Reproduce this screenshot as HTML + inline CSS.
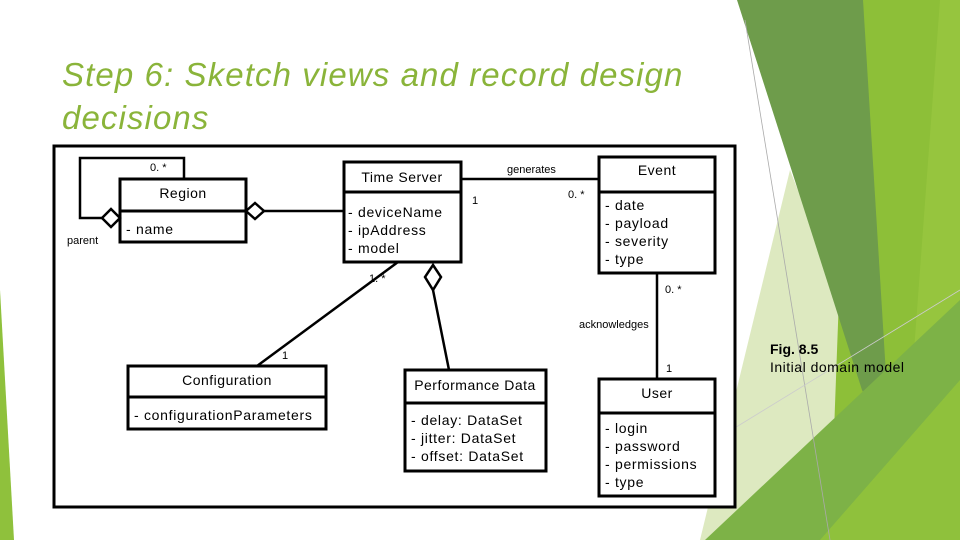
<!DOCTYPE html>
<html><head><meta charset="utf-8"><style>
html,body{margin:0;padding:0;background:#fff;}
svg{display:block;}
text{font-family:"Liberation Sans",sans-serif;}
</style></head><body>
<svg width="960" height="540" viewBox="0 0 960 540" xmlns="http://www.w3.org/2000/svg">
<rect width="960" height="540" fill="#fff"/>
<!-- background decoration -->
<polygon points="0,290 14,540 0,540" fill="#8fc13c"/>
<polygon points="790,170 880,400 960,300 960,540 700,540" fill="#dde9c0"/>
<polygon points="850,0 960,0 960,540 830,540" fill="#8dbf38"/>
<polygon points="940,0 960,0 960,540 900,540" fill="#96c53e"/>
<polygon points="737,0 863,0 890,440 862,390" fill="#6e9c4b"/>
<polygon points="705,540 960,300 960,540" fill="#7db247"/>
<polygon points="820,540 960,380 960,540" fill="#8fc13c"/>
<line x1="745" y1="20" x2="830" y2="540" stroke="#aaa" stroke-width="0.8"/>
<line x1="715" y1="440" x2="960" y2="290" stroke="#ccc" stroke-width="0.8"/>
<!-- title -->
<text x="62" y="86" font-size="33" font-style="italic" letter-spacing="1.1" fill="#8ab43a">Step 6: Sketch views and record design</text>
<text x="62" y="129" font-size="33" font-style="italic" letter-spacing="1.1" fill="#8ab43a">decisions</text>
<!-- frame -->
<rect x="54" y="146" width="681" height="361" fill="#fff" stroke="#000" stroke-width="3"/>
<g stroke="#000" stroke-width="3" fill="#fff">
<rect x="120" y="179" width="126" height="63"/>
<line x1="120" y1="211" x2="246" y2="211"/>
<rect x="344" y="162" width="117" height="100"/>
<line x1="344" y1="192" x2="461" y2="192"/>
<rect x="599" y="157" width="116" height="116"/>
<line x1="599" y1="192" x2="715" y2="192"/>
<rect x="128" y="366" width="198" height="63"/>
<line x1="128" y1="397" x2="326" y2="397"/>
<rect x="405" y="370" width="141" height="101"/>
<line x1="405" y1="403" x2="546" y2="403"/>
<rect x="599" y="379" width="116" height="117"/>
<line x1="599" y1="413" x2="715" y2="413"/>
</g>
<g stroke="#000" stroke-width="2.5" fill="none">
<polyline points="102,218 80,218 80,158 184,158 184,179"/>
<line x1="264" y1="211" x2="344" y2="211"/>
<line x1="461" y1="179" x2="599" y2="179"/>
<line x1="657" y1="273" x2="657" y2="379"/>
<line x1="398" y1="262" x2="257" y2="366"/>
<line x1="433" y1="290" x2="449" y2="370"/>
</g>
<g stroke="#000" stroke-width="2.5" fill="#fff">
<polygon points="102,218 111,209 120,218 111,227"/>
<polygon points="246,211 255,203 264,211 255,219"/>
<polygon points="433,265 441,277 433,290 425,277"/>
</g>
<g font-size="14" fill="#000" text-anchor="middle" letter-spacing="0.5">
<text x="183" y="198">Region</text>
<text x="402" y="182">Time Server</text>
<text x="657" y="175">Event</text>
<text x="227" y="385">Configuration</text>
<text x="475" y="390">Performance Data</text>
<text x="657" y="398">User</text>
</g>
<g font-size="14" fill="#000" letter-spacing="0.7">
<text x="126" y="234">- name</text>
<text x="348" y="217">- deviceName</text>
<text x="348" y="235">- ipAddress</text>
<text x="348" y="253">- model</text>
<text x="605" y="210">- date</text>
<text x="605" y="228">- payload</text>
<text x="605" y="246">- severity</text>
<text x="605" y="264">- type</text>
<text x="134" y="420">- configurationParameters</text>
<text x="411" y="425">- delay: DataSet</text>
<text x="411" y="443">- jitter: DataSet</text>
<text x="411" y="461">- offset: DataSet</text>
<text x="605" y="433">- login</text>
<text x="605" y="451">- password</text>
<text x="605" y="469">- permissions</text>
<text x="605" y="487">- type</text>
</g>
<g font-size="11" fill="#000">
<text x="150" y="171">0. *</text>
<text x="67" y="244">parent</text>
<text x="507" y="173">generates</text>
<text x="472" y="204">1</text>
<text x="568" y="198">0. *</text>
<text x="369" y="282">1. *</text>
<text x="665" y="293">0. *</text>
<text x="579" y="328">acknowledges</text>
<text x="666" y="372">1</text>
<text x="282" y="359">1</text>
</g>
<text x="770" y="354" font-size="14" font-weight="bold" fill="#000">Fig. 8.5</text>
<text x="770" y="372" font-size="14" letter-spacing="0.5" fill="#000">Initial domain model</text>
</svg>
</body></html>
